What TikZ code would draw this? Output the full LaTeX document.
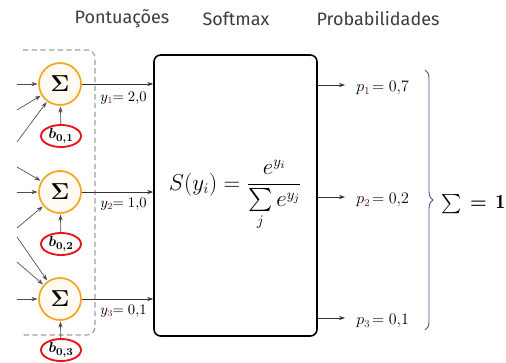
\documentclass[tikz,border=0pt]{standalone}
\usepackage{fontspec}
\usepackage{amsmath}
\newfontfamily\hdrfont{Fira Sans}
\usetikzlibrary{arrows.meta,shapes.geometric,decorations.pathreplacing}
\definecolor{sumorange}{RGB}{245,166,35}
\definecolor{sumfill}{RGB}{255,251,242}
\definecolor{biasred}{RGB}{232,20,28}
\definecolor{subred}{RGB}{120,25,25}
\definecolor{hdrgray}{RGB}{60,60,60}
\definecolor{boxgray}{RGB}{160,160,160}
\definecolor{bracecol}{RGB}{100,70,150}
\begin{document}
\begin{tikzpicture}[x=0.75pt,y=-0.75pt,
  sumnode/.style={circle,draw=sumorange,line width=1.3pt,fill=sumfill,minimum size=31.5pt,inner sep=0pt,font=\fontsize{17}{17}\selectfont},
  biasnode/.style={ellipse,draw=biasred,line width=1.4pt,fill=white,minimum width=30pt,minimum height=16.5pt,inner sep=0pt,font=\fontsize{11}{11}\selectfont},
  hdr/.style={font=\hdrfont\fontsize{13.5}{13.5}\selectfont,text=hdrgray},
  inarrow/.style={draw=black!70,line width=0.5pt,-{Stealth[length=4.5pt,width=3.2pt]},shorten >=0.5pt},
  outarrow/.style={draw=black!80,line width=0.6pt,-{Stealth[length=4.5pt,width=3.2pt]}},
  lbl/.style={font=\fontsize{10.5}{10.5}\selectfont,inner sep=0pt}]
\useasboundingbox (0,0) rectangle (506,362);

% headers
\node[hdr] (h1) at (122,19) {Pontuações};
\node[hdr] (h2) at (236,19) {Softmax};
\node[hdr] (h3) at (378,19) {Probabilidades};

% dashed group box (open on the left)
\draw[boxgray,line width=0.9pt,dash pattern=on 4pt off 2.5pt,rounded corners=6pt]
  (23,50) -- (95,50) -- (95,335) -- (23,335);

% summation nodes
\node[sumnode] (s1) at (60,84) {$\boldsymbol{\Sigma}$};
\node[sumnode] (s2) at (60,192) {$\boldsymbol{\Sigma}$};
\node[sumnode] (s3) at (60,299) {$\boldsymbol{\Sigma}$};

% bias nodes
\node[biasnode] (b1) at (61,136) {$\boldsymbol{b_{0,1}}$};
\node[biasnode] (b2) at (61,244) {$\boldsymbol{b_{0,2}}$};
\node[biasnode] (b3) at (61,350) {$\boldsymbol{b_{0,3}}$};
\draw[inarrow] (b1) -- (s1);
\draw[inarrow] (b2) -- (s2);
\draw[inarrow] (b3) -- (s3);

% inputs
\coordinate (i11) at (17,84);
\coordinate (i12) at (17,110);
\coordinate (i13) at (17,142);
\coordinate (i21) at (17,167);
\coordinate (i22) at (17,192);
\coordinate (i23) at (17,228);
\coordinate (i31) at (17,237);
\coordinate (i32) at (17,262);
\coordinate (i33) at (17,299);
\draw[inarrow] (i11) -- (s1);
\draw[inarrow] (i12) -- (s1);
\draw[inarrow] (i13) -- (s1);
\draw[inarrow] (i21) -- (s2);
\draw[inarrow] (i22) -- (s2);
\draw[inarrow] (i23) -- (s2);
\draw[inarrow] (i31) -- (s3);
\draw[inarrow] (i32) -- (s3);
\draw[inarrow] (i33) -- (s3);

% softmax box with formula
\node[draw=black,line width=1.2pt,rounded corners=5pt,minimum width=122.25pt,minimum height=210.75pt,inner sep=0pt,font=\fontsize{16}{16}\selectfont] (sm) at (235.5,195.5) {$S(y_i)=\dfrac{e^{y_i}}{\sum\limits_j e^{y_j}}$};

% scores to box
\draw[outarrow] (s1.east) -- (s1.east -| sm.west);
\draw[outarrow] (s2.east) -- (s2.east -| sm.west);
\draw[outarrow] (s3.east) -- (s3.east -| sm.west);
\node[lbl,anchor=west] (y1) at (100,98) {$y_{\textcolor{subred}{1}}\!\!= 2{,}0$};
\node[lbl,anchor=west] (y2) at (100,204) {$y_{\textcolor{subred}{2}}\!\!= 1{,}0$};
\node[lbl,anchor=west] (y3) at (100,311) {$y_{\textcolor{subred}{3}}\!\!= 0{,}1$};

% probabilities
\node[lbl,anchor=west,font=\fontsize{12}{12}\selectfont] (p1) at (356,88) {$p_{\textcolor{subred}{1}}\!= 0{,}7$};
\node[lbl,anchor=west,font=\fontsize{12}{12}\selectfont] (p2) at (356,200) {$p_{\textcolor{subred}{2}}\!= 0{,}2$};
\node[lbl,anchor=west,font=\fontsize{12}{12}\selectfont] (p3) at (356,321) {$p_{\textcolor{subred}{3}}\!= 0{,}1$};
\coordinate (o1) at (345,85);
\coordinate (o2) at (345,197);
\coordinate (o3) at (345,318);
\draw[outarrow] (sm.east |- o1) -- (o1);
\draw[outarrow] (sm.east |- o2) -- (o2);
\draw[outarrow] (sm.east |- o3) -- (o3);

% brace
\coordinate (bt) at (425,70);
\coordinate (bb) at (425,330);
\draw[bracecol,line width=0.7pt,decorate,decoration={brace,amplitude=6pt}] (bt) -- (bb);
\node[font=\fontsize{15}{15}\selectfont,anchor=west,inner sep=0pt] (tot) at (441,204) {$\textstyle\sum\mkern3mu\boldsymbol{=}\mkern3mu\mathbf{1}$};
\end{tikzpicture}
\end{document}
